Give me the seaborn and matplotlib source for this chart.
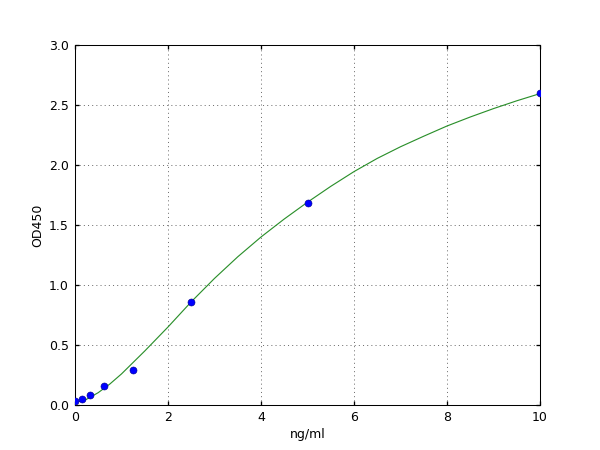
import matplotlib
matplotlib.use("Agg")
import matplotlib.pyplot as plt
import numpy as np
import pandas as pd
import seaborn as sns

# standard points
conc = [0, 0.156, 0.312, 0.625, 1.25, 2.5, 5, 10]
od = [0.03, 0.05, 0.086, 0.156, 0.29, 0.855, 1.68, 2.60]

# fitted curve
curve_x = [0, 0.25, 0.5, 0.75, 1, 1.5, 2, 2.5, 3, 3.5, 4, 4.5, 5,
           5.5, 6, 6.5, 7, 7.5, 8, 8.5, 9, 9.5, 10]
curve_y = [0.02, 0.048, 0.103, 0.175, 0.259, 0.45, 0.65, 0.86, 1.055, 1.235,
           1.40, 1.55, 1.69, 1.822, 1.945, 2.055, 2.152, 2.24, 2.325, 2.40,
           2.47, 2.535, 2.595]

sns.set_theme(style="white")
plt.rcParams.update({
    "font.family": ["DejaVu Sans"],
    "font.size": 12,
    "axes.labelsize": 12,
    "xtick.labelsize": 12,
    "ytick.labelsize": 12,
    "axes.edgecolor": "black",
    "axes.linewidth": 1.0,
    "xtick.direction": "in",
    "ytick.direction": "in",
    "xtick.top": True,
    "ytick.right": True,
    "xtick.bottom": True,
    "ytick.left": True,
    "xtick.major.size": 4,
    "ytick.major.size": 4,
    "xtick.major.pad": 6,
    "ytick.major.pad": 6,
    "xtick.color": "black",
    "ytick.color": "black",
    "axes.labelcolor": "black",
})

fig, ax = plt.subplots(figsize=(8, 6), dpi=75)
fig.subplots_adjust(left=0.125, right=0.9, bottom=0.1, top=0.9)

pts = pd.DataFrame({"x": conc, "y": od})
fit = pd.DataFrame({"x": curve_x, "y": curve_y})

sns.lineplot(data=fit, x="x", y="y", ax=ax, color="#2a8f2a", lw=1.1, sort=False)
sns.scatterplot(data=pts, x="x", y="y", ax=ax, color="blue", s=46,
                edgecolor="#000080", linewidth=0.5, zorder=3)

ax.set_xlim(0, 10)
ax.set_ylim(0, 3.0)
ax.set_xticks(np.arange(0, 11, 2))
ax.set_yticks(np.arange(0, 3.01, 0.5))
ax.set_xticklabels([str(v) for v in range(0, 11, 2)])
ax.set_yticklabels([f"{v:.1f}" for v in np.arange(0, 3.01, 0.5)])
ax.grid(True, color="0.35", linestyle=(0, (1.25, 3.75)), linewidth=0.8)
ax.set_xlabel("ng/ml")
ax.set_ylabel("OD450")

fig.savefig("out.png", dpi=75)
